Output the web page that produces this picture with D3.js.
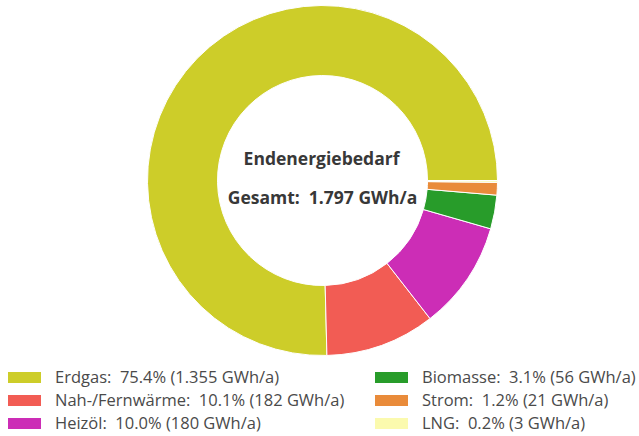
<!DOCTYPE html>
<html>
<head>
<meta charset="utf-8">
<script src="https://cdn.jsdelivr.net/npm/d3@7"></script>
<style>
  body { margin: 0; background: #fff; }
  svg text { font-family: "Open Sans", sans-serif; white-space: pre; }
</style>
</head>
<body>
<div id="chart"></div>
<script>
// data, in legend order
var labels = ["Erdgas", "Nah-/Fernwärme", "Heizöl", "Biomasse", "Strom", "LNG"];
var values = [1355, 182, 180, 56, 21, 3];
var percents = ["75.4%", "10.1%", "10.0%", "3.1%", "1.2%", "0.2%"];
var amounts = ["1.355 GWh/a", "182 GWh/a", "180 GWh/a", "56 GWh/a", "21 GWh/a", "3 GWh/a"];
var colors = ["#cdcd29", "#f25c54", "#cc2db6", "#289c2a", "#e98b3a", "#fbfaae"];
var title = "Endenergiebedarf";
var total = "Gesamt:  1.797 GWh/a";

var width = 639, height = 436;
var cx = 322.5, cy = 180.5;
var outerR = 175, innerR = 105;

var svg = d3.select("#chart").append("svg")
    .attr("width", width)
    .attr("height", height);

var data = labels.map((l, i) => ({label: l, value: values[i], color: colors[i], pct: percents[i], amt: amounts[i]}));

// drawn counter-clockwise from 3 o'clock
var pie = d3.pie()
    .sort(null)
    .value(d => d.value)
    .startAngle(Math.PI / 2)
    .endAngle(Math.PI / 2 - 2 * Math.PI);

var arc = d3.arc().innerRadius(innerR).outerRadius(outerR);

var chartGroup = svg.append("g")
    .attr("transform", `translate(${cx}, ${cy})`);

chartGroup.selectAll("path")
    .data(pie(data))
    .enter()
    .append("path")
    .attr("d", arc)
    .attr("fill", d => d.data.color)
    .attr("stroke", "#fff")
    .attr("stroke-width", 1);

chartGroup.append("text")
    .attr("x", -1)
    .attr("y", -16)
    .attr("text-anchor", "middle")
    .style("font-size", "17.5px")
    .style("font-weight", "700")
    .attr("fill", "#383838")
    .text(title);

chartGroup.append("text")
    .attr("x", 0)
    .attr("y", 23.5)
    .attr("text-anchor", "middle")
    .style("font-size", "17.5px")
    .style("font-weight", "700")
    .attr("fill", "#383838")
    .text(total);

// legend, two columns of three
var legend = svg.append("g");
var items = legend.selectAll("g")
    .data(data)
    .enter()
    .append("g")
    .attr("transform", (d, i) => `translate(${i < 3 ? 8 : 375}, ${372 + (i % 3) * 23})`);

items.append("rect")
    .attr("width", 33)
    .attr("height", 11)
    .attr("fill", d => d.color);

items.append("text")
    .attr("x", 47)
    .attr("y", 11)
    .style("font-size", "16.5px")
    .attr("fill", "#4a4a4a")
    .text(d => `${d.label}:  ${d.pct} (${d.amt})`);
</script>
</body>
</html>
